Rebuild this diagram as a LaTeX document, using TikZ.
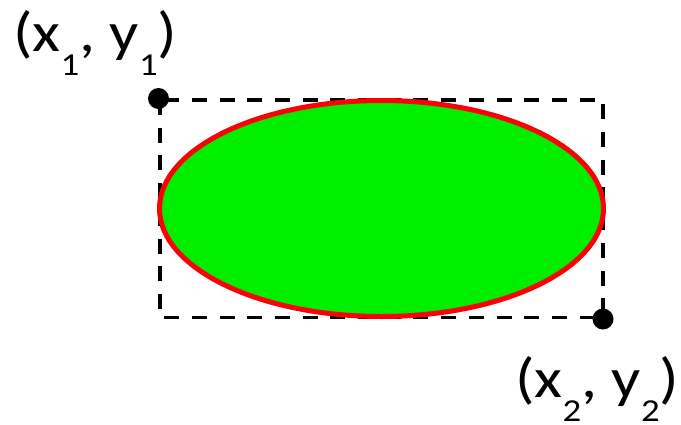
\documentclass[tikz,border=0pt]{standalone}
\usepackage{fontspec}
\setmainfont{Carlito}
\usetikzlibrary{positioning}
\definecolor{fillgreen}{RGB}{0,238,0}
\definecolor{edgered}{RGB}{255,0,0}
\newcommand{\idx}[1]{\raisebox{-24pt}{\fontsize{32}{32}\selectfont #1}}
\tikzset{
  corner/.style={circle, fill=black, inner sep=0pt, minimum size=21pt},
  coordlabel/.style={inner sep=0pt, xscale=1.15, font=\fontsize{56}{56}\selectfont},
  boxline/.style={line width=3.2pt, dash pattern=on 15pt off 12.7pt}
}
\begin{document}
\begin{tikzpicture}[x=1pt,y=-1pt]
  \useasboundingbox (0,0) rectangle (681,424);
  \coordinate (tl) at (160,100);
  \coordinate (br) at (603,317.5);

  \draw[boxline] (tl) rectangle (br);
  \filldraw[fill=fillgreen, draw=edgered, line width=5pt] (381.5,208.5) ellipse (222 and 108);

  \node[corner] (p1) at ([shift={(-1.5,-1.5)}]tl) {};
  \node[corner] (p2) at ([shift={(0,1.5)}]br) {};
  \node[coordlabel, anchor=base west] (l1) at (13,51) {(x\idx{1}, y\idx{1})};
  \node[coordlabel, anchor=base west] (l2) at (515,397) {(x\idx{2}, y\idx{2})};
  \end{tikzpicture}
\end{document}
